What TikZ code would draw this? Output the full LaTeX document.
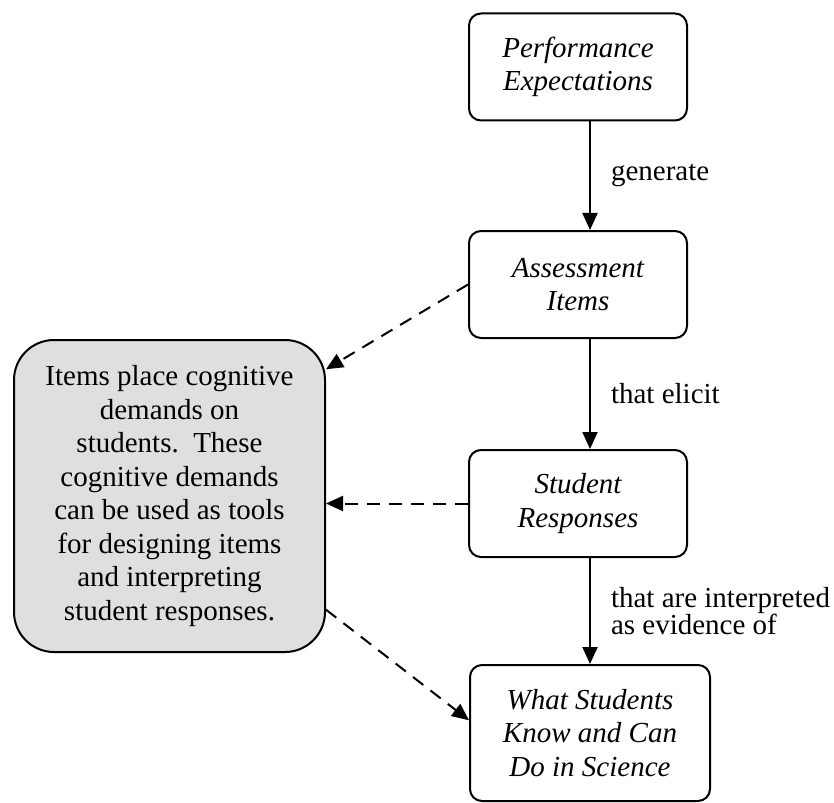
\documentclass[tikz,border=0pt]{standalone}
\usepackage{fontspec}
\setmainfont{Liberation Serif}
\usetikzlibrary{positioning, calc, arrows.meta}

\begin{document}
\begin{tikzpicture}[x=1pt, y=-1pt,
    every node/.style={font=\fontsize{29}{33.5}\selectfont},
    stage/.style={draw, line width=2pt, rounded corners=12pt, align=center, font=\fontsize{29}{33.5}\selectfont\itshape, minimum width=218pt, minimum height=107pt, inner sep=0pt},
    link/.style={line width=2pt, -{Triangle[length=17pt,width=15pt]}},
    hint/.style={link, dash pattern=on 13pt off 9pt},
    verb/.style={right, align=left, inner sep=0pt, xshift=20pt}]
    \useasboundingbox (0,0) rectangle (834,802);
    \node[stage] (pe) at (578,67) {Performance\\Expectations};
    \node[stage] (ai) at (578,284.5) {Assessment\\Items};
    \node[stage] (sr) at (578,503.5) {Student\\Responses};
    \node[stage, minimum width=240pt, minimum height=136pt] (ws) at (590,733) {What Students\\Know and Can\\Do in Science};
    \node[draw, line width=2pt, fill=gray!25, rounded corners=40pt, minimum width=311pt, minimum height=312pt, align=center, inner sep=0pt] (notes) at (169.5,496) {Items place cognitive\\demands on\\students.\ \ These\\cognitive demands\\can be used as tools\\for designing items\\and interpreting\\student responses.};
    \draw[link] (pe.south -| ws.north) -- node[verb] {generate} (ai.north -| ws.north);
    \draw[link] (ai.south -| ws.north) -- node[verb] {that elicit} (sr.north -| ws.north);
    \draw[link] (sr.south -| ws.north) -- node[verb, font=\fontsize{29}{27}\selectfont] {that are interpreted\\as evidence of} (ws.north);
    \draw[hint] (ai.west) -- (notes.39);
    \draw[hint] (sr.west) -- (sr.west -| notes.east);
    \draw[hint] (notes.-36) -- (ws.174);
\end{tikzpicture}
\end{document}
